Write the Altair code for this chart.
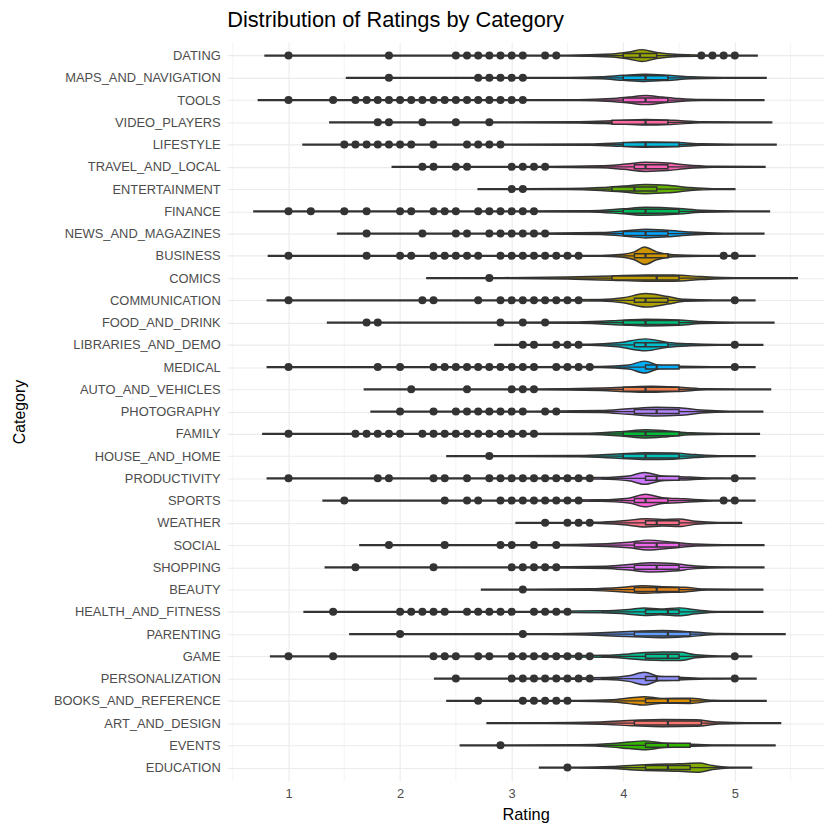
import math
import altair as alt
import pandas as pd

# ---------------- data ----------------
categories = [
    "DATING", "MAPS_AND_NAVIGATION", "TOOLS", "VIDEO_PLAYERS", "LIFESTYLE",
    "TRAVEL_AND_LOCAL", "ENTERTAINMENT", "FINANCE", "NEWS_AND_MAGAZINES",
    "BUSINESS", "COMICS", "COMMUNICATION", "FOOD_AND_DRINK", "LIBRARIES_AND_DEMO",
    "MEDICAL", "AUTO_AND_VEHICLES", "PHOTOGRAPHY", "FAMILY", "HOUSE_AND_HOME",
    "PRODUCTIVITY", "SPORTS", "WEATHER", "SOCIAL", "SHOPPING", "BEAUTY",
    "HEALTH_AND_FITNESS", "PARENTING", "GAME", "PERSONALIZATION",
    "BOOKS_AND_REFERENCE", "ART_AND_DESIGN", "EVENTS", "EDUCATION",
]

q1 = [4.0, 4.0, 4.0, 3.9, 4.0, 4.1, 3.9, 4.0, 4.0, 4.1, 3.9, 4.1, 4.0, 4.1, 4.2, 4.0, 4.1,
      4.0, 4.0, 4.2, 4.1, 4.2, 4.1, 4.1, 4.1, 4.2, 4.1, 4.2, 4.2, 4.2, 4.1, 4.2, 4.2]
median = [4.15, 4.2, 4.2, 4.2, 4.2, 4.2, 4.1, 4.2, 4.2, 4.2, 4.3, 4.2, 4.2, 4.2, 4.3, 4.2, 4.3,
          4.2, 4.2, 4.3, 4.2, 4.3, 4.3, 4.3, 4.3, 4.4, 4.4, 4.4, 4.3, 4.4, 4.4, 4.4, 4.4]
q3 = [4.3, 4.4, 4.4, 4.4, 4.5, 4.4, 4.3, 4.5, 4.4, 4.4, 4.5, 4.4, 4.5, 4.4, 4.5, 4.5, 4.5,
      4.5, 4.5, 4.5, 4.4, 4.5, 4.5, 4.5, 4.5, 4.5, 4.6, 4.5, 4.5, 4.6, 4.7, 4.6, 4.6]
whisker_lo = [3.6, 3.4, 3.2, 3.1, 3.0, 3.4, 3.3, 3.3, 3.4, 3.7, 3.0, 3.7, 3.5, 3.7, 3.8, 3.3, 3.5,
              3.3, 3.4, 3.8, 3.7, 3.8, 3.5, 3.5, 3.5, 3.8, 3.5, 3.8, 3.8, 3.6, 3.2, 3.6, 3.6]
whisker_hi = [4.6, 5.0, 5.0, 5.0, 5.0, 4.9, 4.7, 5.0, 5.0, 4.8, 5.0, 4.8, 5.0, 4.8, 4.9, 5.0, 5.0,
              5.0, 5.0, 4.9, 4.8, 4.8, 5.0, 5.0, 5.0, 4.9, 5.0, 4.9, 4.9, 5.0, 5.0, 5.0, 5.0]

outliers = [
    [1.0, 1.9, 2.5, 2.6, 2.7, 2.8, 2.9, 3.0, 3.1, 3.3, 3.4, 4.7, 4.8, 4.9, 5.0],
    [1.9, 2.7, 2.8, 2.9, 3.0, 3.1],
    [1.0, 1.4, 1.6, 1.7, 1.8, 1.9, 2.0, 2.1, 2.2, 2.3, 2.4, 2.5, 2.6, 2.7, 2.8, 2.9, 3.0, 3.1],
    [1.8, 1.9, 2.2, 2.5, 2.8],
    [1.5, 1.6, 1.7, 1.8, 1.9, 2.0, 2.1, 2.3, 2.6, 2.7, 2.8, 2.9],
    [2.2, 2.3, 2.5, 2.6, 3.0, 3.1, 3.2, 3.3],
    [3.0, 3.1],
    [1.0, 1.2, 1.5, 1.7, 2.0, 2.1, 2.3, 2.4, 2.5, 2.7, 2.8, 2.9, 3.0, 3.1, 3.2],
    [1.7, 2.2, 2.5, 2.6, 2.8, 2.9, 3.0, 3.1, 3.2, 3.3],
    [1.0, 1.7, 2.0, 2.1, 2.3, 2.4, 2.5, 2.6, 2.7, 2.9, 3.0, 3.1, 3.2, 3.3, 3.4, 3.5, 3.6, 4.9, 5.0],
    [2.8],
    [1.0, 2.2, 2.3, 2.7, 2.9, 3.0, 3.1, 3.2, 3.3, 3.4, 3.5, 3.6, 5.0],
    [1.7, 1.8, 2.9, 3.1, 3.3],
    [3.1, 3.2, 3.4, 3.5, 3.6, 5.0],
    [1.0, 1.8, 2.0, 2.3, 2.4, 2.5, 2.6, 2.7, 2.8, 2.9, 3.0, 3.1, 3.2, 3.4, 3.5, 3.6, 3.7, 5.0],
    [2.1, 2.6, 3.0, 3.1, 3.2],
    [2.0, 2.3, 2.5, 2.6, 2.7, 2.8, 2.9, 3.0, 3.1, 3.3, 3.4],
    [1.0, 1.6, 1.7, 1.8, 1.9, 2.0, 2.2, 2.3, 2.4, 2.5, 2.6, 2.7, 2.8, 2.9, 3.0, 3.1, 3.2],
    [2.8],
    [1.0, 1.8, 1.9, 2.3, 2.4, 2.6, 2.8, 2.9, 3.0, 3.1, 3.2, 3.3, 3.4, 3.5, 3.6, 3.7, 5.0],
    [1.5, 2.4, 2.6, 2.7, 2.9, 3.0, 3.1, 3.2, 3.3, 3.4, 3.5, 3.6, 4.9, 5.0],
    [3.3, 3.5, 3.6, 3.7],
    [1.9, 2.4, 2.9, 3.0, 3.2, 3.4],
    [1.6, 2.3, 3.0, 3.1, 3.2, 3.3, 3.4],
    [3.1],
    [1.4, 2.0, 2.1, 2.2, 2.3, 2.4, 2.6, 2.7, 2.8, 2.9, 3.0, 3.2, 3.3, 3.4, 3.5],
    [2.0, 3.1],
    [1.0, 1.4, 2.3, 2.4, 2.5, 2.7, 2.8, 3.0, 3.1, 3.2, 3.3, 3.4, 3.5, 3.6, 3.7, 5.0],
    [2.5, 3.0, 3.1, 3.2, 3.3, 3.4, 3.5, 3.6, 3.7, 5.0],
    [2.7, 3.1, 3.2, 3.3, 3.4, 3.5],
    [],
    [2.9],
    [3.5],
]

# violin outline: rating knots and relative density (outer half-width) at each knot
violin_r = [
    [0.79, 1.2, 2.8, 3.5, 3.9, 4.05, 4.17, 4.3, 4.5, 4.8, 5.2],
    [1.52, 2.0, 3.0, 3.5, 3.8, 4.0, 4.19, 4.4, 4.6, 4.9, 5.28],
    [0.73, 1.2, 3.0, 3.6, 3.9, 4.05, 4.2, 4.35, 4.5, 4.7, 5.0, 5.26],
    [1.37, 2.0, 3.0, 3.6, 3.9, 4.2, 4.45, 4.7, 5.0, 5.33],
    [1.13, 1.8, 3.0, 3.7, 4.0, 4.2, 4.5, 4.7, 5.0, 5.37],
    [1.93, 2.5, 3.3, 3.8, 4.0, 4.2, 4.4, 4.55, 4.8, 5.27],
    [2.7, 3.1, 3.5, 3.8, 4.0, 4.2, 4.4, 4.6, 4.8, 5.0],
    [0.69, 1.3, 3.0, 3.7, 4.0, 4.2, 4.5, 4.7, 5.0, 5.31],
    [1.44, 2.2, 3.2, 3.8, 4.05, 4.2, 4.4, 4.6, 4.9, 5.26],
    [0.82, 1.5, 3.2, 3.8, 4.0, 4.1, 4.19, 4.3, 4.45, 4.7, 5.0, 5.18],
    [2.24, 2.9, 3.5, 3.9, 4.2, 4.45, 4.7, 5.0, 5.3, 5.56],
    [0.81, 1.5, 3.2, 3.8, 4.0, 4.2, 4.4, 4.55, 4.8, 5.18],
    [1.35, 2.0, 3.0, 3.6, 4.0, 4.2, 4.5, 4.7, 5.0, 5.35],
    [2.85, 3.2, 3.7, 3.95, 4.2, 4.4, 4.6, 4.85, 5.25],
    [0.81, 1.5, 3.2, 3.8, 4.05, 4.19, 4.33, 4.5, 4.8, 5.18],
    [1.68, 2.3, 3.2, 3.8, 4.05, 4.25, 4.5, 4.75, 5.0, 5.32],
    [1.74, 2.3, 3.2, 3.8, 4.05, 4.3, 4.5, 4.7, 4.95, 5.25],
    [0.77, 1.4, 3.0, 3.7, 4.0, 4.2, 4.4, 4.6, 4.9, 5.22],
    [2.42, 3.0, 3.6, 3.95, 4.2, 4.45, 4.65, 4.9, 5.18],
    [0.81, 1.5, 3.2, 3.8, 4.05, 4.19, 4.35, 4.6, 4.8, 5.18],
    [1.31, 2.0, 3.2, 3.8, 4.05, 4.2, 4.35, 4.55, 4.8, 5.18],
    [3.04, 3.4, 3.75, 4.0, 4.2, 4.35, 4.5, 4.65, 4.85, 5.06],
    [1.64, 2.3, 3.3, 3.85, 4.05, 4.22, 4.45, 4.65, 4.9, 5.26],
    [1.33, 2.0, 3.2, 3.85, 4.05, 4.25, 4.45, 4.65, 4.9, 5.26],
    [2.73, 3.2, 3.7, 4.0, 4.17, 4.35, 4.55, 4.75, 5.0, 5.25],
    [1.14, 1.8, 3.2, 3.8, 4.05, 4.19, 4.33, 4.5, 4.65, 4.85, 5.25],
    [1.55, 2.3, 3.3, 3.8, 4.1, 4.35, 4.6, 4.85, 5.1, 5.45],
    [0.84, 1.5, 3.2, 3.85, 4.05, 4.2, 4.35, 4.5, 4.65, 4.85, 5.15],
    [2.31, 2.8, 3.3, 3.85, 4.05, 4.19, 4.33, 4.5, 4.75, 5.19],
    [2.42, 3.0, 3.6, 3.9, 4.05, 4.19, 4.35, 4.6, 4.8, 5.0, 5.28],
    [2.78, 3.3, 3.8, 4.1, 4.35, 4.65, 4.85, 5.1, 5.41],
    [2.54, 3.0, 3.6, 3.9, 4.05, 4.19, 4.35, 4.55, 4.8, 5.05, 5.36],
    [3.25, 3.6, 3.9, 4.1, 4.3, 4.5, 4.68, 4.8, 4.95, 5.15],
]
violin_w = [
    [0, 0.5, 0.7, 1.2, 2.5, 4.5, 7.0, 4.0, 2.0, 1.0, 0],
    [0, 0.5, 0.8, 1.2, 2.0, 3.5, 4.6, 3.6, 2.0, 1.0, 0],
    [0, 0.5, 0.8, 1.3, 2.5, 4.0, 5.6, 4.0, 2.5, 1.5, 0.8, 0],
    [0, 0.6, 1.0, 1.6, 2.5, 3.8, 3.0, 1.5, 0.8, 0],
    [0, 0.6, 1.0, 1.6, 2.8, 3.6, 3.0, 1.8, 1.0, 0],
    [0, 0.6, 1.0, 2.0, 3.5, 5.6, 4.8, 3.0, 1.5, 0],
    [0, 0.8, 1.5, 2.5, 4.0, 5.6, 4.8, 2.5, 1.0, 0],
    [0, 0.5, 0.9, 1.6, 3.5, 5.0, 3.8, 2.0, 1.0, 0],
    [0, 0.6, 1.0, 2.0, 4.0, 5.4, 4.3, 2.5, 1.0, 0],
    [0, 0.4, 0.7, 1.2, 2.5, 5.0, 9.8, 5.0, 2.0, 1.0, 0.7, 0],
    [0, 1.0, 2.0, 3.2, 4.1, 4.1, 2.5, 1.3, 0.6, 0],
    [0, 0.4, 0.8, 1.8, 3.5, 7.8, 4.8, 2.0, 0.9, 0],
    [0, 0.6, 1.0, 1.7, 3.4, 4.4, 3.6, 2.0, 1.0, 0],
    [0, 0.8, 1.5, 3.0, 7.0, 3.4, 2.0, 1.0, 0],
    [0, 0.4, 0.8, 1.5, 3.0, 7.0, 2.5, 1.8, 1.0, 0],
    [0, 0.6, 1.1, 2.3, 3.4, 4.0, 3.1, 1.5, 0.8, 0],
    [0, 0.6, 1.0, 2.0, 3.8, 5.4, 4.8, 2.5, 1.0, 0],
    [0, 0.5, 0.9, 1.6, 3.4, 5.2, 3.9, 2.0, 0.9, 0],
    [0, 0.8, 1.6, 3.1, 4.4, 4.1, 2.5, 1.0, 0],
    [0, 0.4, 0.8, 1.8, 3.4, 7.0, 3.4, 2.4, 1.0, 0],
    [0, 0.5, 0.8, 1.8, 3.4, 7.3, 3.9, 2.8, 1.0, 0],
    [0, 0.8, 1.5, 3.0, 5.2, 4.3, 4.8, 2.5, 1.0, 0],
    [0, 0.6, 1.0, 2.4, 3.8, 6.0, 3.9, 2.0, 1.0, 0],
    [0, 0.5, 0.9, 2.2, 3.8, 5.7, 4.8, 2.3, 1.0, 0],
    [0, 0.8, 1.8, 3.4, 4.8, 3.9, 3.4, 1.5, 0.7, 0],
    [0, 0.5, 0.9, 2.0, 3.4, 4.8, 3.9, 5.0, 3.0, 1.2, 0],
    [0, 0.6, 1.2, 2.4, 3.8, 4.6, 3.4, 1.5, 0.8, 0],
    [0, 0.4, 0.8, 2.0, 3.4, 4.8, 5.3, 5.3, 2.5, 1.0, 0],
    [0, 0.6, 1.0, 2.0, 3.8, 7.3, 3.0, 2.4, 1.0, 0],
    [0, 0.7, 1.2, 2.2, 3.8, 5.2, 3.4, 3.6, 1.5, 0.8, 0],
    [0, 1.0, 2.2, 3.8, 4.6, 4.3, 2.0, 0.8, 0],
    [0, 0.7, 1.5, 2.8, 4.3, 5.5, 3.4, 2.4, 1.3, 0.8, 0],
    [0, 0.8, 2.0, 3.4, 4.3, 4.8, 5.7, 3.0, 1.0, 0],
]

x_ticks = [1, 2, 3, 4, 5]
x_minor = [0.5, 1.5, 2.5, 3.5, 4.5, 5.5]


# ---------------- ggplot-like hue palette (alphabetical levels) ----------------
def hcl_hex(h, c=100.0, l=65.0):
    hr = math.radians(h)
    U, V = c * math.cos(hr), c * math.sin(hr)
    Y = ((l + 16.0) / 116.0) ** 3
    Xn, Yn, Zn = 0.95047, 1.0, 1.08883
    den = Xn + 15 * Yn + 3 * Zn
    un, vn = 4 * Xn / den, 9 * Yn / den
    u = U / (13 * l) + un
    v = V / (13 * l) + vn
    X = 9.0 * Y * u / (4 * v)
    Z = Y * (12 - 3 * u - 20 * v) / (4 * v)
    rl = 3.240479 * X - 1.537150 * Y - 0.498535 * Z
    gl = -0.969256 * X + 1.875992 * Y + 0.041556 * Z
    bl = 0.055648 * X - 0.204043 * Y + 1.057311 * Z

    def gam(t):
        t = 12.92 * t if t <= 0.0031308 else 1.055 * t ** (1 / 2.4) - 0.055
        return int(round(min(1, max(0, t)) * 255))

    return "#{:02X}{:02X}{:02X}".format(gam(rl), gam(gl), gam(bl))


levels = sorted(categories)
palette = [hcl_hex(15 + i * 360.0 / len(levels)) for i in range(len(levels))]

# ---------------- tables ----------------
viol_rows, box_rows, pt_rows = [], [], []
for i, c in enumerate(categories):
    for r, w in zip(violin_r[i], violin_w[i]):
        viol_rows.append({"cat": c, "idx": i, "r": r, "w": w})
    box_rows.append({"cat": c, "idx": i, "q1": q1[i], "med": median[i], "q3": q3[i],
                     "wlo": whisker_lo[i], "whi": whisker_hi[i]})
    for o in outliers[i]:
        pt_rows.append({"cat": c, "idx": i, "r": o})
viol = pd.DataFrame(viol_rows)
box = pd.DataFrame(box_rows)
pts = pd.DataFrame(pt_rows)
minor = pd.DataFrame({"v": x_minor})

FONT = "Liberation Sans"
W, H = 602, 745
ROW = H / 33.2

xscale = alt.Scale(domain=[0.45, 5.8], nice=False, zero=False)
yscale = alt.Scale(domain=[-0.6, 32.6], nice=False, zero=False, reverse=True)
label_expr = "[" + ",".join("'%s'" % c for c in categories) + "][datum.value]"

xaxis = alt.Axis(values=x_ticks, format="d", title="Rating", grid=True, gridColor="#EBEBEB",
                 gridWidth=1.1, domain=False, ticks=False, labelColor="#4D4D4D",
                 labelFontSize=13, labelFont=FONT, labelPadding=7,
                 titleFont=FONT, titleFontSize=16.5, titleFontWeight="normal", titleColor="#000000",
                 titleX=W / 2, titleY=34, titleBaseline="middle")
yaxis = alt.Axis(values=list(range(len(categories))), labelExpr=label_expr, title="Category",
                 grid=True, gridColor="#EBEBEB", gridWidth=1.1, domain=False, ticks=False,
                 labelColor="#4D4D4D", labelFontSize=13, labelFont=FONT, labelPadding=7,
                 labelBaseline="middle",
                 titleFont=FONT, titleFontSize=16, titleFontWeight="normal", titleColor="#000000",
                 titleAngle=270, titleX=-209, titleY=H / 2, titleBaseline="middle",
                 titleAlign="center")
fill = alt.Fill("cat:N", scale=alt.Scale(domain=levels, range=palette), legend=None)

grid_minor = alt.Chart(minor).mark_rule(color="#EBEBEB", strokeWidth=0.55).encode(
    x=alt.X("v:Q", scale=xscale, axis=xaxis))

# outer half-width minus the outline's own thickness
violins = alt.Chart(viol).transform_calculate(
    lo="datum.idx - max(datum.w - 1.0, 0.4)/%f" % ROW,
    hi="datum.idx + max(datum.w - 1.0, 0.4)/%f" % ROW,
).mark_area(orient="vertical", stroke="#333333", strokeWidth=1.5, interpolate="monotone",
            opacity=1).encode(
    x=alt.X("r:Q", scale=xscale, axis=xaxis),
    y=alt.Y("lo:Q", scale=yscale, axis=yaxis),
    y2="hi:Q",
    fill=fill,
    detail="cat:N",
)

whiskers = alt.Chart(box).mark_rule(color="#333333", strokeWidth=1.2).encode(
    x=alt.X("wlo:Q", scale=xscale, axis=xaxis), x2="whi:Q",
    y=alt.Y("idx:Q", scale=yscale, axis=yaxis))

boxes = alt.Chart(box).transform_calculate(
    b0="datum.idx - 0.09", b1="datum.idx + 0.09"
).mark_rect(stroke="#333333", strokeWidth=1.5).encode(
    x=alt.X("q1:Q", scale=xscale, axis=xaxis), x2="q3:Q",
    y=alt.Y("b0:Q", scale=yscale, axis=yaxis), y2="b1:Q",
    fill=fill)

medians = alt.Chart(box).transform_calculate(
    b0="datum.idx - 0.09", b1="datum.idx + 0.09"
).mark_rule(color="#333333", strokeWidth=2.2).encode(
    x=alt.X("med:Q", scale=xscale, axis=xaxis),
    y=alt.Y("b0:Q", scale=yscale, axis=yaxis), y2="b1:Q")

points = alt.Chart(pts).mark_circle(size=66, color="#333333", opacity=1).encode(
    x=alt.X("r:Q", scale=xscale, axis=xaxis),
    y=alt.Y("idx:Q", scale=yscale, axis=yaxis))

chart = alt.layer(grid_minor, violins, whiskers, boxes, medians, points).properties(
    width=W, height=H,
    autosize=alt.AutoSizeParams(type="none"),
    padding={"left": 221, "top": 31, "right": 8, "bottom": 50},
    title=alt.Title("Distribution of Ratings by Category", anchor="start", frame="group",
                    font=FONT, fontSize=22, fontWeight="normal", color="#000000", offset=10),
).configure_view(stroke=None)

chart.save("out.html", embed_options={"renderer": "svg", "actions": False})
